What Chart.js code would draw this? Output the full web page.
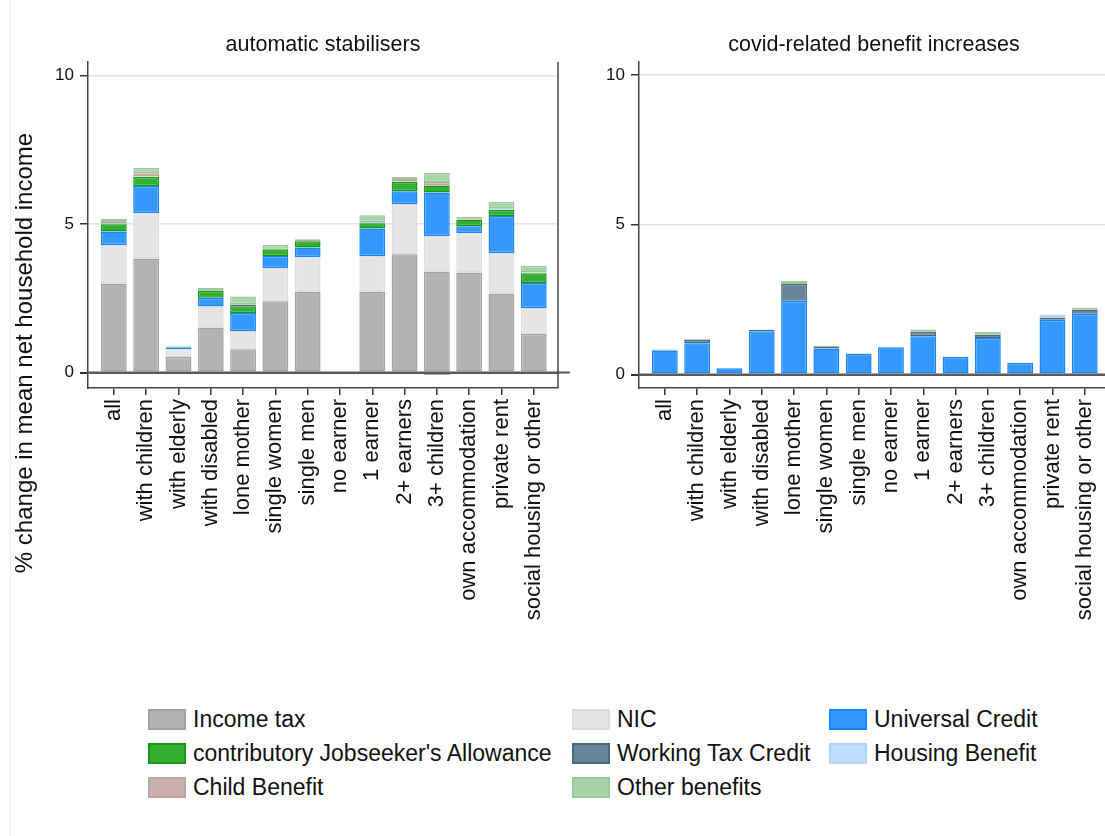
<!DOCTYPE html>
<html>
<head>
<meta charset="utf-8">
<script src="https://cdn.jsdelivr.net/npm/chart.js@4/dist/chart.umd.min.js"></script>
<style>
  html, body { margin: 0; padding: 0; background: #fff; overflow: hidden; }
  body { width: 1105px; height: 836px; position: relative; font-family: "Liberation Sans", Arial, sans-serif; }
  .frame { position: absolute; left: 10px; top: 0; width: 1px; height: 836px; background: #eeeeee; }
  #left { position: absolute; left: 0; top: 0; }
  #right { position: absolute; left: 551px; top: 0; }
  .key { position: absolute; height: 24px; display: flex; align-items: center; font-size: 23px; color: #111; white-space: nowrap; }
  .key span.box { display: inline-block; width: 34px; height: 17px; border: 2px solid; margin-right: 7px; }
</style>
</head>
<body>
<div class="frame"></div>
<canvas id="left" width="600" height="660"></canvas>
<canvas id="right" width="600" height="660"></canvas>
<div id="legend"></div>
<script>
'use strict';

var categories = ['all', 'with children', 'with elderly', 'with disabled', 'lone mother',
  'single women', 'single men', 'no earner', '1 earner', '2+ earners', '3+ children',
  'own accommodation', 'private rent', 'social housing or other'];
var yTicks = [0, 5, 10];

// automatic stabilisers, % of mean net household income
var incomeTax = [3.00, 3.84, 0.52, 1.52, 0.78, 2.40, 2.73, 0, 2.73, 3.98, 3.40, 3.37, 2.66, 1.30];
var nic       = [1.29, 1.52, 0.26, 0.70, 0.62, 1.11, 1.15, 0, 1.19, 1.69, 1.19, 1.32, 1.36, 0.87];
var uc        = [0.46, 0.92, 0.06, 0.30, 0.60, 0.41, 0.33, 0, 0.93, 0.43, 1.47, 0.23, 1.25, 0.84];
var jsa       = [0.24, 0.30, 0.03, 0.22, 0.23, 0.23, 0.21, 0, 0.17, 0.32, 0.23, 0.23, 0.21, 0.33];
var wtc       = [0.01, 0.01, 0, 0.01, 0.04, 0, 0, 0, 0.01, 0.01, -0.07, 0, 0.01, 0.02];
var hb        = [0.01, 0.01, 0.02, 0, 0.01, 0.02, 0.01, 0, 0.04, 0, 0, 0, 0.05, 0];
var cb        = [0.06, 0.11, 0, 0.03, 0.03, 0, 0.04, 0, 0, 0.08, 0.12, 0.04, 0, 0.01];
var other     = [0.10, 0.18, 0, 0.07, 0.25, 0.12, 0.03, 0, 0.22, 0.07, 0.31, 0.04, 0.20, 0.22];

// covid-related benefit increases
var ucCovid    = [0.80, 1.04, 0.21, 1.44, 2.46, 0.87, 0.69, 0.91, 1.28, 0.59, 1.22, 0.39, 1.83, 2.03];
var wtcCovid   = [0.02, 0.12, 0, 0.05, 0.56, 0.05, 0, 0, 0.15, 0, 0.11, 0, 0.07, 0.14];
var hbCovid    = [0.02, 0, 0.02, 0, 0, 0, 0.02, 0.02, 0, 0, 0, 0, 0.10, 0];
var otherCovid = [0, 0.03, 0, 0, 0.10, 0.04, 0, 0, 0.07, 0, 0.10, 0, 0, 0.05];

var FONT = '"Liberation Sans", Arial, sans-serif';

var series = {
  it:    { label: 'Income tax', fill: '#b3b3b3', line: '#a2a2a2' },
  nic:   { label: 'NIC', fill: '#e5e5e5', line: '#dddddd' },
  uc:    { label: 'Universal Credit', fill: '#3399ff', line: '#1685ff' },
  jsa:   { label: "contributory Jobseeker's Allowance", fill: '#33b033', line: '#139b13' },
  wtc:   { label: 'Working Tax Credit', fill: '#668599', line: '#48687e' },
  hb:    { label: 'Housing Benefit', fill: '#c0ddfb', line: '#b2d4f5' },
  cb:    { label: 'Child Benefit', fill: '#c9b1ad', line: '#bea5a1' },
  other: { label: 'Other benefits', fill: '#aad4a7', line: '#9bca98' }
};

function points(vals) {
  return vals.map(function (v, i) { return { x: i, y: v }; });
}

function ds(key, vals) {
  var s = series[key];
  return {
    label: s.label,
    data: points(vals),
    backgroundColor: s.fill,
    borderColor: s.line,
    borderWidth: 1.5,
    borderSkipped: false,
    barPercentage: 0.8,
    categoryPercentage: 1
  };
}

// panel title, y title, zero line and right frame
var panelDecor = {
  id: 'panelDecor',
  afterDatasetsDraw: function (chart, args, opts) {
    var ctx = chart.ctx, a = chart.chartArea;
    var y0 = chart.scales.y.getPixelForValue(0);
    ctx.save();
    ctx.strokeStyle = '#5a5a5a';
    ctx.lineWidth = 2;
    ctx.beginPath();
    ctx.moveTo(a.left, y0);
    ctx.lineTo(a.right + opts.zeroExtra, y0);
    ctx.stroke();
    if (opts.rightFrame) {
      ctx.strokeStyle = '#444';
      ctx.lineWidth = 1.5;
      ctx.beginPath();
      ctx.moveTo(a.right, a.top);
      ctx.lineTo(a.right, a.bottom);
      ctx.stroke();
    }
    ctx.restore();
  },
  afterDraw: function (chart, args, opts) {
    var ctx = chart.ctx, a = chart.chartArea;
    ctx.save();
    ctx.fillStyle = '#111';
    ctx.textAlign = 'center';
    ctx.textBaseline = 'middle';
    ctx.font = '21.5px ' + FONT;
    ctx.fillText(opts.title, (a.left + a.right) / 2, 45);
    if (opts.yTitle) {
      ctx.font = '24px ' + FONT;
      ctx.translate(25, 353);
      ctx.rotate(-Math.PI / 2);
      ctx.fillText(opts.yTitle, 0, 0);
    }
    ctx.restore();
  }
};

function makeChart(id, datasets, yMin, yMax, decor) {
  return new Chart(document.getElementById(id), {
    type: 'bar',
    data: { datasets: datasets },
    plugins: [panelDecor],
    options: {
      responsive: false,
      animation: false,
      layout: { padding: { top: 62, right: 42, left: 0, bottom: 0 } },
      plugins: {
        legend: { display: false },
        tooltip: { enabled: false },
        panelDecor: decor
      },
      scales: {
        x: {
          type: 'linear',
          stacked: true,
          offset: false,
          min: -0.8,
          max: 13.75,
          afterBuildTicks: function (s) {
            s.ticks = categories.map(function (c, i) { return { value: i }; });
          },
          afterFit: function (s) { s.height = 272; },
          ticks: {
            autoSkip: false,
            minRotation: 90,
            maxRotation: 90,
            padding: 4,
            color: '#111',
            font: { family: FONT, size: 22 },
            callback: function (v) { return categories[v]; }
          },
          grid: { drawOnChartArea: false, drawTicks: true, tickLength: 7, tickColor: '#333', lineWidth: 1.5, offset: false },
          border: { display: true, color: '#444', width: 1.5 }
        },
        y: {
          stacked: true,
          min: yMin,
          max: yMax,
          afterBuildTicks: function (s) {
            s.ticks = yTicks.map(function (v) { return { value: v }; });
          },
          afterFit: function (s) { s.width = 88; },
          ticks: { color: '#111', padding: 6, font: { family: FONT, size: 17 } },
          grid: {
            color: function (c) { return c.tick && c.tick.value === 0 ? '#5a5a5a' : '#e4e4e4'; },
            lineWidth: function (c) { return c.tick && c.tick.value === 0 ? 2 : 1.5; },
            tickColor: '#333',
            tickLength: 8
          },
          border: { display: true, color: '#444', width: 1.5 }
        }
      }
    }
  });
}

makeChart('left', [
  ds('it', incomeTax), ds('nic', nic), ds('uc', uc), ds('jsa', jsa),
  ds('wtc', wtc), ds('hb', hb), ds('cb', cb), ds('other', other)
], -0.52, 10.45, {
  title: 'automatic stabilisers',
  yTitle: '% change in mean net household income',
  rightFrame: true,
  zeroExtra: 12
});

makeChart('right', [
  ds('uc', ucCovid), ds('wtc', wtcCovid), ds('hb', hbCovid), ds('other', otherCovid)
], -0.45, 10.43, {
  title: 'covid-related benefit increases',
  rightFrame: false,
  zeroExtra: 0
});

// legend, three columns
var legendOrder = ['it', 'nic', 'uc', 'jsa', 'wtc', 'hb', 'cb', 'other'];
var colX = [148, 572, 829];
var rowY = [719, 753, 787];
var legend = document.getElementById('legend');
legendOrder.forEach(function (key, i) {
  var s = series[key];
  var el = document.createElement('div');
  el.className = 'key';
  el.style.left = colX[i % 3] + 'px';
  el.style.top = (rowY[Math.floor(i / 3)] - 12) + 'px';
  el.innerHTML = '<span class="box" style="background:' + s.fill + ';border-color:' + s.line + '"></span>' + s.label;
  legend.appendChild(el);
});
</script>
</body>
</html>
